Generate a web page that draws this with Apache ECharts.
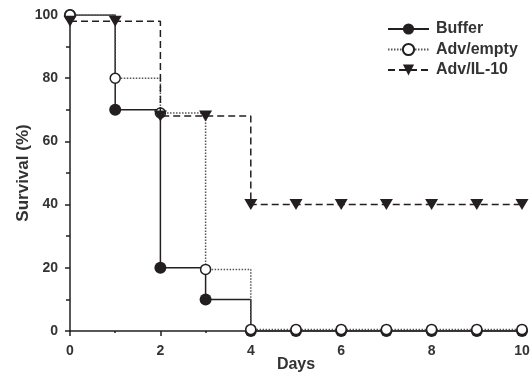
<!DOCTYPE html>
<html>
<head>
<meta charset="utf-8">
<script src="https://cdn.jsdelivr.net/npm/echarts@6/dist/echarts.min.js"></script>
<style>
  html, body { margin: 0; padding: 0; background: #fff; }
  #chart { width: 532px; height: 376px; }
</style>
</head>
<body>
<div id="chart"></div>
<script>
// Kaplan-Meier style survival curves, one value per day
const days = [0, 1, 2, 3, 4, 5, 6, 7, 8, 9, 10];
const bufferSurvival = [100, 70, 20, 10, 0, 0, 0, 0, 0, 0, 0];
const advEmptySurvival = [100, 80, 69, 19.5, 0.5, 0.5, 0.5, 0.5, 0.5, 0.5, 0.5];
const advIL10Survival = [98, 98, 68, 68, 40, 40, 40, 40, 40, 40, 40];
const seriesNames = ['Buffer', 'Adv/empty', 'Adv/IL-10'];

const ink = '#231f20';
const textInk = '#333';
const font = 'Liberation Sans, Arial, Helvetica, sans-serif';

const pairs = vals => days.map((d, i) => [d, vals[i]]);

const chart = echarts.init(document.getElementById('chart'), null, { renderer: 'canvas' });

chart.setOption({
  animation: false,
  backgroundColor: '#fff',
  grid: { left: 70, right: 10, top: 15, bottom: 45, containLabel: false, outerBoundsMode: 'none' },
  legend: {
    orient: 'vertical',
    left: 382,
    top: 16,
    itemWidth: 41,
    itemHeight: 14,
    itemGap: 4.5,
    data: seriesNames,
    textStyle: {
      fontFamily: font, fontWeight: 'bold', fontSize: 16, color: textInk,
      lineHeight: 14, padding: [0, 0, 0, 2]
    }
  },
  xAxis: {
    type: 'value',
    min: 0, max: 10, interval: 2,
    name: 'Days',
    nameLocation: 'middle',
    nameGap: 26,
    nameMoveOverlap: false,
    nameTextStyle: { fontFamily: font, fontWeight: 'bold', fontSize: 16, color: textInk },
    axisLine: { lineStyle: { color: ink, width: 1.5 } },
    axisTick: { length: 5, lineStyle: { color: ink, width: 1.5 } },
    minorTick: { show: true, splitNumber: 2, length: 2, lineStyle: { color: ink, width: 1.5 } },
    axisLabel: { margin: 13, fontFamily: font, fontWeight: 'bold', fontSize: 14, color: textInk },
    splitLine: { show: false }
  },
  yAxis: {
    type: 'value',
    min: 0, max: 100, interval: 20,
    name: 'Survival (%)',
    nameLocation: 'middle',
    nameGap: 38,
    nameMoveOverlap: false,
    nameTextStyle: { fontFamily: font, fontWeight: 'bold', fontSize: 17, color: textInk },
    axisLine: { lineStyle: { color: ink, width: 1.5 } },
    axisTick: { length: 5, lineStyle: { color: ink, width: 1.5 } },
    minorTick: { show: true, splitNumber: 2, length: 4, lineStyle: { color: ink, width: 1.5 } },
    axisLabel: { margin: 12, fontFamily: font, fontWeight: 'bold', fontSize: 14, color: textInk },
    splitLine: { show: false }
  },
  series: [
    {
      name: seriesNames[0],
      type: 'line',
      step: 'end',
      data: pairs(bufferSurvival),
      symbol: 'circle',
      symbolSize: 12,
      itemStyle: { color: ink, borderColor: ink, borderWidth: 0 },
      lineStyle: { color: ink, width: 1.5, type: 'solid' },
      z: 2
    },
    {
      name: seriesNames[1],
      type: 'line',
      step: 'end',
      data: pairs(advEmptySurvival),
      symbol: 'circle',
      symbolSize: 10,
      itemStyle: { color: '#fff', borderColor: ink, borderWidth: 1.5 },
      lineStyle: { color: '#555', width: 1.5, type: [1.5, 1.5] },
      z: 3
    },
    {
      name: seriesNames[2],
      type: 'line',
      step: 'end',
      data: pairs(advIL10Survival),
      symbol: 'triangle',
      symbolRotate: 180,
      symbolSize: [13, 11],
      itemStyle: { color: ink, borderColor: ink, borderWidth: 0 },
      lineStyle: { color: ink, width: 1.5, type: [7, 4] },
      z: 4
    }
  ]
});
</script>
</body>
</html>
